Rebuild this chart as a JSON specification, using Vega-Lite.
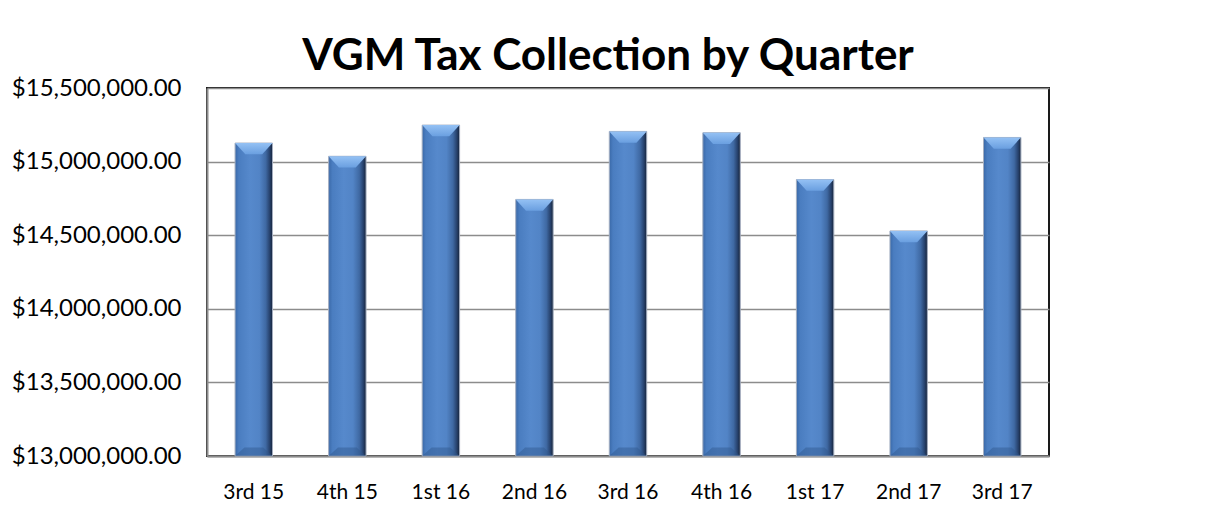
{
  "$schema": "https://vega.github.io/schema/vega-lite/v6.json",
  "width": 842,
  "height": 368,
  "autosize": {"type": "none"},
  "padding": {"left": 207, "top": 88, "right": 164, "bottom": 69},
  "background": "white",
  "title": {
    "text": "VGM Tax Collection by Quarter",
    "font": "Lato",
    "fontSize": 44,
    "fontWeight": "bold",
    "color": "black",
    "anchor": "middle",
    "baseline": "alphabetic",
    "offset": 15,
    "dx": -20,
    "dy": 53
  },
  "config": {
    "view": {"stroke": "#1a1a1a", "strokeWidth": 2}
  },
  "data": {
    "values": [
      {"quarter": "3rd 15", "value": 15126000},
      {"quarter": "4th 15", "value": 15036000},
      {"quarter": "1st 16", "value": 15248000},
      {"quarter": "2nd 16", "value": 14743000},
      {"quarter": "3rd 16", "value": 15205000},
      {"quarter": "4th 16", "value": 15196000},
      {"quarter": "1st 17", "value": 14878000},
      {"quarter": "2nd 17", "value": 14529000},
      {"quarter": "3rd 17", "value": 15164000}
    ]
  },
  "encoding": {
    "x": {
      "field": "quarter",
      "type": "nominal",
      "sort": null,
      "scale": {"paddingInner": 0.6, "paddingOuter": 0.3},
      "axis": {
        "title": null,
        "labelAngle": 0,
        "ticks": false,
        "domain": true,
        "domainColor": "#8c8c8c",
        "domainWidth": 2,
        "labelFont": "Lato",
        "labelFontSize": 21,
        "labelColor": "black",
        "labelPadding": 25,
        "grid": false
      }
    }
  },
  "layer": [
    {
      "mark": {
        "type": "bar",
        "color": {
          "gradient": "linear",
          "x1": 0, "y1": 0, "x2": 1, "y2": 0,
          "stops": [
            {"offset": 0, "color": "#3a69a8"},
            {"offset": 0.1, "color": "#4a7dc0"},
            {"offset": 0.4, "color": "#5689cc"},
            {"offset": 0.65, "color": "#5284c6"},
            {"offset": 0.82, "color": "#3f69a3"},
            {"offset": 0.93, "color": "#26406a"},
            {"offset": 1, "color": "#162338"}
          ]
        },
        "stroke": "#a4aec0",
        "strokeWidth": 1
      },
      "encoding": {
        "y": {
          "field": "value",
          "type": "quantitative",
          "scale": {"domain": [13000000, 15500000], "zero": false, "nice": false},
          "axis": {
            "title": null,
            "values": [13000000, 13500000, 14000000, 14500000, 15000000, 15500000],
            "format": "$,.2f",
            "ticks": false,
            "labelPadding": 26,
            "labelFont": "Lato",
            "labelFontSize": 24,
            "labelColor": "black",
            "grid": true,
            "gridColor": "#8c8c8c",
            "gridWidth": 1.5,
            "domainColor": "#8c8c8c",
            "domainWidth": 2
          }
        },
        "y2": {"datum": 13000000}
      }
    },
    {
      "mark": {
        "type": "point",
        "shape": "M-1,0L1,0L0.45,0.6L-0.45,0.6Z",
        "filled": true,
        "size": 1400,
        "opacity": 1,
        "strokeWidth": 0,
        "color": {
          "gradient": "linear",
          "x1": 0, "y1": 0, "x2": 0, "y2": 1,
          "stops": [
            {"offset": 0, "color": "#94c1f4"},
            {"offset": 1, "color": "#6a9fe0"}
          ]
        }
      },
      "encoding": {
        "y": {"field": "value", "type": "quantitative"}
      }
    },
    {
      "mark": {
        "type": "point",
        "shape": "M-1,0L1,0L0.5,-0.45L-0.5,-0.45Z",
        "filled": true,
        "size": 1400,
        "opacity": 0.45,
        "strokeWidth": 0,
        "color": "#2f568c"
      },
      "encoding": {
        "y": {"datum": 13000000}
      }
    }
  ]
}
